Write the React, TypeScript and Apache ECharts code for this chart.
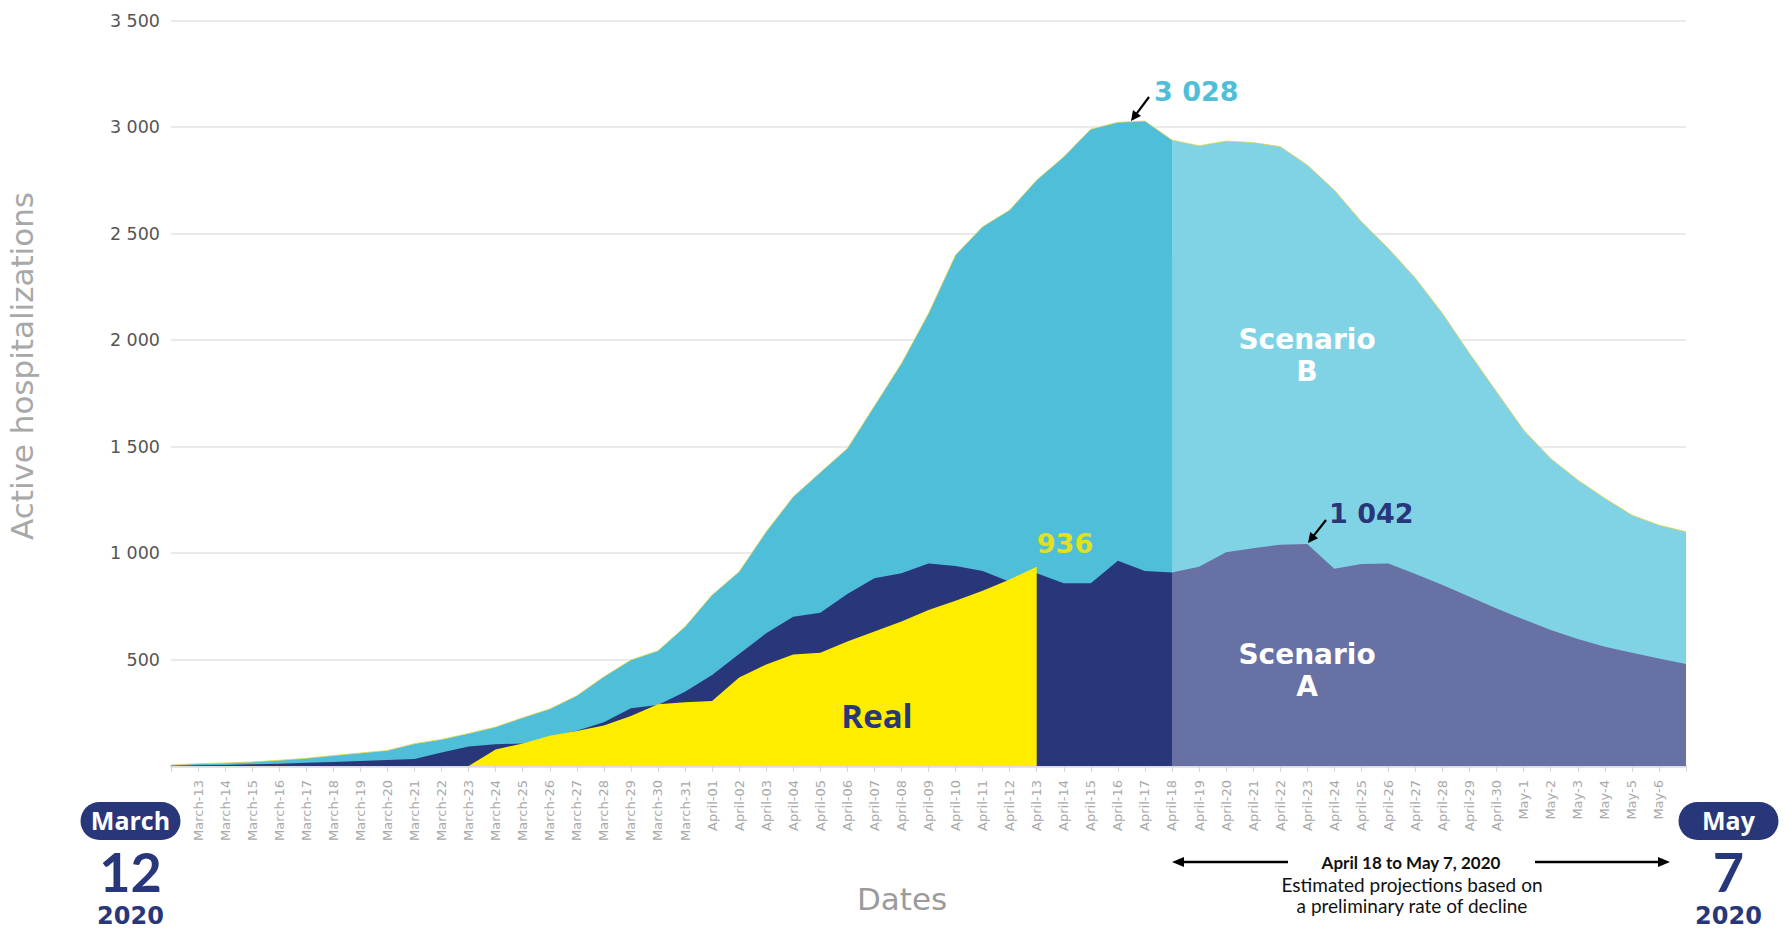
import React, { useEffect, useRef } from "react";
import * as echarts from "echarts";

// ---------- DATA ----------
const categories = [
  "March-12", "March-13", "March-14", "March-15", "March-16", "March-17", "March-18", "March-19",
  "March-20", "March-21", "March-22", "March-23", "March-24", "March-25", "March-26", "March-27",
  "March-28", "March-29", "March-30", "March-31",
  "April-01", "April-02", "April-03", "April-04", "April-05", "April-06", "April-07", "April-08",
  "April-09", "April-10", "April-11", "April-12", "April-13", "April-14", "April-15", "April-16",
  "April-17", "April-18", "April-19", "April-20", "April-21", "April-22", "April-23", "April-24",
  "April-25", "April-26", "April-27", "April-28", "April-29", "April-30",
  "May-1", "May-2", "May-3", "May-4", "May-5", "May-6", "May-7",
];

// Scenario B, March-12 .. April-18
const scenarioBObserved = [
  5, 11, 14, 19, 27, 36, 49, 61, 73, 105, 125, 153, 183, 227, 268, 330, 419, 498, 541, 654,
  803, 912, 1100, 1264, 1378, 1491, 1690, 1890, 2125, 2399, 2532, 2610, 2751, 2860, 2990, 3022,
  3028, 2939,
];
// Scenario B projection, April-18 .. May-7
const scenarioBProjected = [
  2939, 2912, 2934, 2927, 2908, 2822, 2704, 2556, 2430, 2290, 2125, 1937, 1757, 1577, 1444,
  1343, 1257, 1178, 1131, 1100,
];
// Scenario A, March-12 .. April-18
const scenarioAObserved = [
  1, 3, 5, 8, 11, 15, 19, 24, 28, 33, 63, 91, 102, 106, 135, 165, 205, 271, 286, 349,
  427, 526, 623, 701, 720, 808, 881, 905, 951, 939, 915, 865, 905, 858, 858, 964, 915, 909,
];
// Scenario A projection, April-18 .. May-7
const scenarioAProjected = [
  909, 936, 1003, 1022, 1039, 1042, 926, 948, 951, 901, 850, 795, 740, 688, 638, 596, 560,
  532, 505, 479,
];
// Real, March-23 .. April-13
const realValues = [
  0, 78, 106, 142, 164, 190, 235, 290, 299, 305, 416, 477, 524, 532, 584, 631, 678, 732, 776,
  823, 876, 936,
];

const bObservedStart = 0;
const bProjectedStart = 37;
const aObservedStart = 0;
const aProjectedStart = 37;
const realStart = 11;

const yTicks = [0, 500, 1000, 1500, 2000, 2500, 3000, 3500];

// ---------- HELPERS ----------
function placeAt(values: number[], start: number): (number | null)[] {
  const out: (number | null)[] = categories.map(() => null);
  values.forEach((v, k) => {
    out[start + k] = v;
  });
  return out;
}

function formatThousands(v: number): string {
  if (v === 0) return "";
  if (v < 1000) return String(v);
  const th = Math.floor(v / 1000);
  const rest = String(v % 1000).padStart(3, "0");
  return `${th} ${rest}`;
}

const LATO = 'Lato, "Open Sans", sans-serif';
const OPEN = '"Open Sans", Lato, sans-serif';
const DEJAVU = '"DejaVu Sans", "Open Sans", sans-serif';
const NAVY = "#283779";
const CYAN = "#4fbed9";
const CYAN_LIGHT = "#80d3e5";
const PURPLE = "#6771a3";
const YELLOW = "#ffed00";

function arrow(x1: number, y1: number, x2: number, y2: number, head = 10, half = 5, width = 2.2) {
  const dx = x2 - x1;
  const dy = y2 - y1;
  const len = Math.sqrt(dx * dx + dy * dy);
  const ux = dx / len;
  const uy = dy / len;
  const bx = x2 - ux * head;
  const by = y2 - uy * head;
  const px = -uy * half;
  const py = ux * half;
  return [
    {
      type: "line",
      z: 100,
      shape: { x1, y1, x2: bx + ux * 1, y2: by + uy * 1 },
      style: { stroke: "#000", lineWidth: width },
      silent: true,
    },
    {
      type: "polygon",
      z: 100,
      shape: {
        points: [
          [x2, y2],
          [bx + px, by + py],
          [bx - px, by - py],
        ],
      },
      style: { fill: "#000" },
      silent: true,
    },
  ];
}

function txt(
  text: string,
  x: number,
  y: number,
  fill: string,
  fontSize: number,
  fontWeight: string | number = "normal",
  fontFamily = LATO,
  align = "center",
  extra: any = {},
  styleExtra: any = {}
) {
  return {
    type: "text",
    x,
    y,
    z: 100,
    silent: true,
    ...extra,
    style: {
      text,
      fill,
      fontSize,
      fontWeight,
      fontFamily,
      align,
      verticalAlign: "middle",
      ...styleExtra,
    },
  };
}

function badge(label: string, day: string, cx: number) {
  return [
    {
      type: "rect",
      z: 100,
      shape: { x: cx - 50, y: 802, width: 100, height: 38, r: 19 },
      style: { fill: NAVY },
      silent: true,
    },
    txt(label, cx, 820, "#ffffff", 25, "bold", OPEN),
    txt(day, cx, 871, NAVY, 54, "bold", LATO),
    txt("2020", cx, 916, NAVY, 24, "bold", DEJAVU),
  ];
}

export default function App() {
  const ref = useRef<HTMLDivElement>(null);

  useEffect(() => {
    if (!ref.current) return;
    const chart = echarts.init(ref.current, null, { renderer: "svg" });

    const areaSeries = (name: string, data: (number | null)[], color: string, line?: any) => ({
      name,
      type: "line",
      data,
      showSymbol: false,
      symbol: "none",
      connectNulls: false,
      lineStyle: line || { width: 0, opacity: 0 },
      areaStyle: { color, opacity: 1 },
      itemStyle: { color },
      emphasis: { disabled: true },
    });

    const option: any = {
      animation: false,
      backgroundColor: "#ffffff",
      grid: { left: 171, right: 100, top: 20.5, bottom: 166, containLabel: false },
      xAxis: {
        type: "category",
        data: categories,
        boundaryGap: false,
        axisLine: { show: true, lineStyle: { color: "#dcdcdc", width: 2.5 } },
        axisTick: { show: true, interval: 0, length: 6, lineStyle: { color: "#d6d6d6", width: 1 } },
        axisLabel: {
          interval: (i: number) => i !== 0 && i !== categories.length - 1,
          rotate: 90,
          margin: 14,
          color: "#a9a9a9",
          fontSize: 13,
          fontFamily: DEJAVU,
        },
        splitLine: { show: false },
      },
      yAxis: {
        type: "value",
        min: yTicks[0],
        max: yTicks[yTicks.length - 1],
        interval: yTicks[1] - yTicks[0],
        axisLine: { show: false },
        axisTick: { show: false },
        axisLabel: {
          margin: 11,
          color: "#555555",
          fontSize: 17.5,
          fontFamily: DEJAVU,
          formatter: (v: number) => formatThousands(v),
        },
        splitLine: { show: true, lineStyle: { color: "#e3e3e3", width: 1.5 } },
      },
      series: [
        areaSeries("Scenario B", placeAt(scenarioBObserved, bObservedStart), CYAN, {
          width: 0.8,
          color: "#e9d34c",
        }),
        areaSeries("Scenario B projection", placeAt(scenarioBProjected, bProjectedStart), CYAN_LIGHT, {
          width: 0.8,
          color: "#e9d34c",
        }),
        areaSeries("Scenario A", placeAt(scenarioAObserved, aObservedStart), NAVY),
        areaSeries("Scenario A projection", placeAt(scenarioAProjected, aProjectedStart), PURPLE),
        areaSeries("Real", placeAt(realValues, realStart), YELLOW),
      ],
      graphic: {
        elements: [
          // Y axis title
          txt("Active hospitalizations", 22, 366, "#a8a8a8", 31, "normal", DEJAVU, "center", {
            rotation: Math.PI / 2,
          }),
          // x axis title
          txt("Dates", 902, 899, "#9b9b9b", 31, "normal", DEJAVU),
          // peak annotations
          txt("3 028", 1154, 91, CYAN, 27, "bold", DEJAVU, "left"),
          ...arrow(1149, 97, 1131, 121),
          txt("1 042", 1329, 513, NAVY, 27, "bold", DEJAVU, "left"),
          ...arrow(1326, 520, 1308, 543),
          txt("936", 1065, 543, "#e3df22", 27, "bold", DEJAVU),
          txt("Real", 877, 715, NAVY, 33, "bold", OPEN),
          txt("Scenario\nB", 1307, 355, "#ffffff", 28, "bold", DEJAVU, "center", {}, { lineHeight: 32 }),
          txt("Scenario\nA", 1307, 670, "#ffffff", 28, "bold", DEJAVU, "center", {}, { lineHeight: 32 }),
          // date badges
          ...badge("March", "12", 130.5),
          ...badge("May", "7", 1728.5),
          // projection range annotation
          ...arrow(1288, 862, 1172, 862, 12, 5, 2.5),
          ...arrow(1535, 862, 1670, 862, 12, 5, 2.5),
          txt("April 18 to May 7, 2020", 1411, 862, "#111111", 17, "bold", LATO),
          txt("Estimated projections based on", 1412, 884, "#111111", 19, "normal", LATO),
          txt("a preliminary rate of decline", 1412, 905, "#111111", 19, "normal", LATO),
        ],
      },
    };

    chart.setOption(option);
    return () => chart.dispose();
  }, []);

  return (
    <div
      ref={ref}
      style={{ position: "absolute", left: 0, top: 0, width: 1786, height: 932, background: "#fff" }}
    />
  );
}
